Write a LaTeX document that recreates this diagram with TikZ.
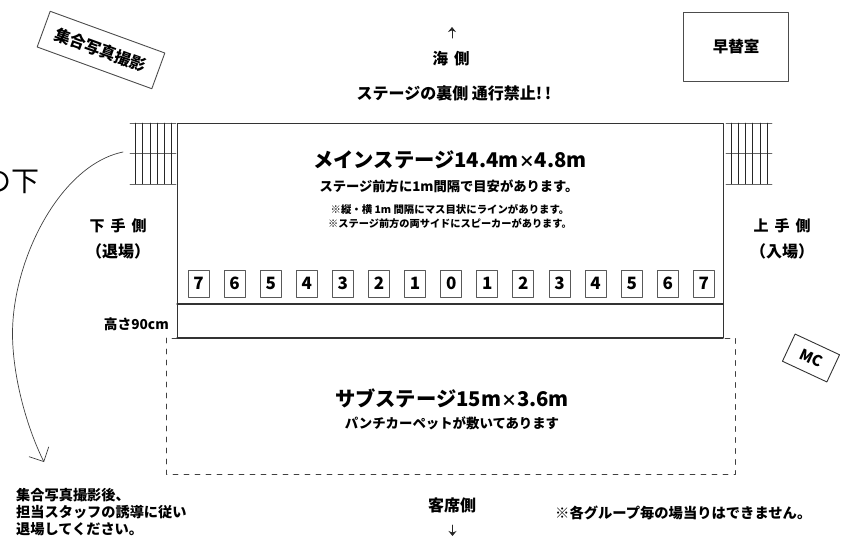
\documentclass[tikz,border=0pt]{standalone}
\usepackage{fontspec}
\setmainfont{Noto Sans CJK JP}
\usetikzlibrary{arrows.meta}
\newcommand{\narrowx}{{\fontsize{16}{16}\selectfont ×}}
\tikzset{
  lbl/.style={inner sep=0pt, font=\fontsize{#1}{#1}\selectfont\bfseries},
  numbox/.style={draw=black!65, line width=1pt, minimum width=21pt, minimum height=27pt, inner sep=0pt, font=\fontsize{17}{17}\selectfont\bfseries},
  tagbox/.style={draw=black!70, line width=.9pt, inner sep=0pt}
}
\begin{document}
\begin{tikzpicture}[x=1pt, y=-1pt, line cap=round, line join=round]
  \useasboundingbox (0,0) rectangle (844,536);
  %--- Main stage
    \draw[thick, black!80] (177, 338) -- (177, 123) -- (723, 123) -- (723, 338) ;
    \draw[very thick, black!80] (177, 304) -- (723, 304) ;
    \draw[very thick, black!80] (177, 338) -- (723, 338) ;
    \node[lbl=20.3] (mainname) at (450, 160) {メインステージ14.4m\narrowx 4.8m};
    \node[lbl=13.3] (mainnote) at (449, 186) {ステージ前方に1m間隔で目安があります。};
    \node[lbl=10.4] (gridnote) at (450, 209) {※縦・横 1m 間隔にマス目状にラインがあります。};
    \node[lbl=10.2] (spknote) at (450, 224) {※ステージ前方の両サイドにスピーカーがあります。};
  %--- Distance marks
    \foreach \n [count=\i from 0] in {7,6,5,4,3,2,1,0,1,2,3,4,5,6,7}
      \node[numbox] (mark\i) at (198.5+36.1*\i, 283.5) {\n};
  %--- Sub stage
    \draw[line width=.9pt, dash pattern=on 5pt off 6pt, black!75] (177, 338) -- (166, 338) -- (166, 474) -- (735.5, 474) -- (735.5, 338) -- (723, 338) ;
    \node[lbl=20.3] (subname) at (452, 398) {サブステージ15m\narrowx 3.6m};
    \node[lbl=13.4] (subnote) at (452, 423) {パンチカーペットが敷いてあります};
  %--- Stairs
    \foreach \y in {123, 153, 184} {
      \draw[thick, black!60] (130, \y) -- (176, \y) ;
      \draw[thick, black!60] (726, \y) -- (772, \y) ;
    }
    \foreach \x in {135, 142.5, 150, 157, 164, 171}
      \draw[black!85] (\x, 123) -- (\x, 184) ;
    \foreach \x in {731, 738, 745.5, 752.5, 760, 767}
      \draw[black!85] (\x, 123) -- (\x, 184) ;
  %--- Rooms and spots
    \node[tagbox, rotate=-20, minimum width=122pt, minimum height=38pt, lbl=16, draw=black!70] (photo) at (101, 50) {集合写真撮影};
    \node[tagbox, minimum width=105.5pt, minimum height=69.5pt, lbl=15.5, draw=black!70] (change) at (736, 47) {早替室};
    \node[tagbox, rotate=-25, minimum width=49pt, minimum height=30pt, lbl=15, draw=black!80] (mc) at (811, 358) {MC};
  %--- Sides
    \node[lbl=15.5] (sea) at (451, 59) {海\hspace{6pt}側};
    \node[lbl=16] (back) at (454, 93) {ステージの裏側 通行禁止!\,!};
    \node[lbl=15] (lower) at (118, 226) {下\hspace{6pt}手\hspace{6pt}側};
    \node[lbl=16] (lowerexit) at (118, 251) {（退場）};
    \node[lbl=15] (upper) at (782, 226) {上\hspace{6pt}手\hspace{6pt}側};
    \node[lbl=16] (upperin) at (782, 251) {（入場）};
    \node[lbl=13.7, anchor=east] (height) at (169, 324) {高さ90cm};
    \node[lbl=16] (seats) at (452, 505) {客席側};
    \node[lbl=14.3, anchor=west] (nocheck) at (555, 513) {※各グループ毎の場当りはできません。};
    \node[lbl=14.2, anchor=west] (exit1) at (16, 495) {集合写真撮影後、};
    \node[lbl=14.2, anchor=west] (exit2) at (16, 512) {担当スタッフの誘導に従い};
    \node[lbl=14.2, anchor=west] (exit3) at (16, 529) {退場してください。};
    \node[inner sep=0pt, anchor=east, font=\fontsize{28}{28}\selectfont] (cut) at (40, 182) {の下};
  %--- Arrows
    \coordinate (seatop) at (452, 38) ;
    \coordinate (seatip) at (452, 27) ;
    \coordinate (seatsfrom) at (452.5, 525) ;
    \coordinate (seatsto) at (452.5, 536) ;
    \draw[-{Stealth[length=5pt,width=8pt]}, line width=1pt, black!85] (seatop) -- (seatip) ;
    \draw[-{Stealth[length=5pt,width=8pt]}, line width=1pt, black!85] (seatsfrom) -- (seatsto) ;
    \coordinate (exitfrom) at (123, 152) ;
    \coordinate (exitmid) at (12.5, 335) ;
    \coordinate (exitto) at (44, 462) ;
    \draw[black!75, line width=.7pt, -{Straight Barb[length=11pt,width=22pt]}] (exitfrom) .. controls (60, 165) and (12, 260) .. (exitmid) .. controls (13, 380) and (28, 430) .. (exitto) ;
\end{tikzpicture}
\end{document}
